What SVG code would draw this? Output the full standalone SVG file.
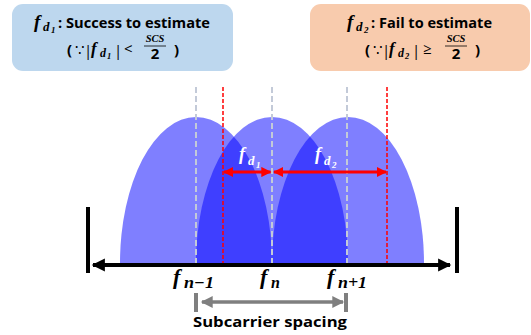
<svg xmlns="http://www.w3.org/2000/svg" width="531" height="335" viewBox="0 0 531 335">
<defs>
<style>
.box{stroke:none}
.t{font-family:"Open Sans","Noto Sans",sans-serif;font-weight:bold;font-size:15px;fill:#000}
.p{font-family:"Open Sans","Noto Sans",sans-serif;font-size:15px;fill:#000}
.m{font-family:"Liberation Serif","DejaVu Serif",serif;font-style:italic;font-weight:bold}
.lobe{fill:#0000FF;fill-opacity:0.5}
.gd{stroke:#C3CAD8;stroke-width:2;stroke-dasharray:6,3;fill:none}
.rd{stroke:#FF0000;stroke-width:1.5;stroke-dasharray:4,2;fill:none}
</style>
<marker id="ra" viewBox="0 0 10 10" refX="9" refY="5" markerWidth="3.6" markerHeight="3.4" orient="auto-start-reverse" markerUnits="strokeWidth"><path d="M0,0 L10,5 L0,10 Z" fill="#FF0000"/></marker>
<marker id="ba" viewBox="0 0 10 10" refX="9" refY="5" markerWidth="4.2" markerHeight="3.3" orient="auto-start-reverse" markerUnits="strokeWidth"><path d="M0,0 L10,5 L0,10 Z" fill="#000"/></marker>
<marker id="ga" viewBox="0 0 10 10" refX="9" refY="5" markerWidth="4.2" markerHeight="3.4" orient="auto-start-reverse" markerUnits="strokeWidth"><path d="M0,0 L10,5 L0,10 Z" fill="#7F7F7F"/></marker>
</defs>

<g id="box-success">
<rect class="box" x="12" y="4" width="221" height="67" rx="11" fill="#BDD7EE"/>
<text x="34" y="28" class="m" font-size="19">f</text>
<text x="43" y="31" class="m" font-size="13">d</text>
<text x="51" y="33" class="m" font-size="9">1</text>
<text x="58" y="28" class="t" font-size="15.5" textLength="152" lengthAdjust="spacingAndGlyphs">: Success to estimate</text>
<text x="67" y="55" class="p" font-weight="bold">(</text>
<text x="75" y="55" class="p" font-family="DejaVu Sans" font-size="11">∵</text>
<text x="84" y="56" class="p" font-size="19">|</text>
<text x="91" y="54" class="m" font-size="17">f</text>
<text x="100" y="57" class="m" font-size="12">d</text>
<text x="107" y="59" class="m" font-size="8.5">1</text>
<text x="114" y="56" class="p" font-size="19">|</text>
<text x="124" y="54" class="p" font-family="DejaVu Sans" font-size="13">&lt;</text>
<text x="155" y="42" class="m" font-size="10.5" text-anchor="middle" font-weight="normal">SCS</text>
<line x1="144" y1="46" x2="166" y2="46" stroke="#000" stroke-width="0.8"/>
<text x="155" y="59" class="p" font-size="11" text-anchor="middle" font-weight="bold">2</text>
<text x="174" y="55" class="p" font-weight="bold">)</text>
</g>

<g id="box-fail">
<rect class="box" x="310" y="4" width="220" height="67" rx="11" fill="#F8CBAD"/>
<text x="347" y="28" class="m" font-size="19">f</text>
<text x="356" y="31" class="m" font-size="13">d</text>
<text x="364" y="33" class="m" font-size="9">2</text>
<text x="371" y="28" class="t" font-size="15.5" textLength="121" lengthAdjust="spacingAndGlyphs">: Fail to estimate</text>
<text x="365" y="55" class="p" font-weight="bold">(</text>
<text x="373" y="55" class="p" font-family="DejaVu Sans" font-size="11">∵</text>
<text x="382" y="56" class="p" font-size="19">|</text>
<text x="389" y="54" class="m" font-size="17">f</text>
<text x="398" y="57" class="m" font-size="12">d</text>
<text x="405" y="59" class="m" font-size="8.5">2</text>
<text x="412" y="56" class="p" font-size="19">|</text>
<text x="423" y="54" class="p" font-family="DejaVu Sans" font-size="13">≥</text>
<text x="456" y="42" class="m" font-size="10.5" text-anchor="middle" font-weight="normal">SCS</text>
<line x1="445" y1="46" x2="467" y2="46" stroke="#000" stroke-width="0.8"/>
<text x="456" y="59" class="p" font-size="11" text-anchor="middle" font-weight="bold">2</text>
<text x="475" y="55" class="p" font-weight="bold">)</text>
</g>

<g id="lobes">
<path class="lobe" d="M120,263 A76,146 0 0 1 272,263 Z"/>
<path class="lobe" d="M196,263 A76,146 0 0 1 348,263 Z"/>
<path class="lobe" d="M272,263 A76,146 0 0 1 424,263 Z"/>
</g>

<g id="guides">
<line class="gd" x1="196" y1="87" x2="196" y2="263"/>
<line class="gd" x1="272" y1="87" x2="272" y2="263"/>
<line class="gd" x1="347" y1="87" x2="347" y2="263"/>
<line class="rd" x1="223" y1="87" x2="223" y2="263"/>
<line class="rd" x1="387" y1="87" x2="387" y2="263"/>
</g>

<g id="connectors">
<line x1="224" y1="172" x2="270.5" y2="172" stroke="#FF0000" stroke-width="3" marker-start="url(#ra)" marker-end="url(#ra)"/>
<line x1="274" y1="172" x2="386" y2="172" stroke="#FF0000" stroke-width="3" marker-start="url(#ra)" marker-end="url(#ra)"/>
<line x1="93" y1="265" x2="450" y2="265" stroke="#000" stroke-width="4" marker-start="url(#ba)" marker-end="url(#ba)"/>
<line x1="88" y1="207" x2="88" y2="273" stroke="#000" stroke-width="4"/>
<line x1="457" y1="207" x2="457" y2="273" stroke="#000" stroke-width="4"/>
<line x1="202" y1="302" x2="343" y2="302" stroke="#7F7F7F" stroke-width="3.5" marker-start="url(#ga)" marker-end="url(#ga)"/>
<line x1="196" y1="293" x2="196" y2="312" stroke="#7F7F7F" stroke-width="4"/>
<line x1="346" y1="293" x2="346" y2="312" stroke="#7F7F7F" stroke-width="4"/>
</g>

<g id="label-fd1">
<text x="239" y="160" class="m" font-size="18" fill="#FFFFFF">f</text>
<text x="248" y="165" class="m" font-size="13" fill="#FFFFFF">d</text>
<text x="256" y="168" class="m" font-size="9" fill="#FFFFFF">1</text>
</g>
<g id="label-fd2">
<text x="315" y="160" class="m" font-size="18" fill="#FFFFFF">f</text>
<text x="324" y="165" class="m" font-size="13" fill="#FFFFFF">d</text>
<text x="332" y="168" class="m" font-size="9" fill="#FFFFFF">2</text>
</g>

<g id="label-fn-1">
<text x="173" y="284" class="m" font-size="22">f</text>
<text x="184" y="288" class="m" font-size="16" textLength="30" lengthAdjust="spacingAndGlyphs">n−1</text>
</g>
<g id="label-fn">
<text x="260" y="284" class="m" font-size="22">f</text>
<text x="271" y="288" class="m" font-size="16">n</text>
</g>
<g id="label-fn+1">
<text x="327" y="284" class="m" font-size="22">f</text>
<text x="338" y="288" class="m" font-size="16" textLength="29" lengthAdjust="spacingAndGlyphs">n+1</text>
</g>

<g id="label-scs">
<text x="193" y="327" class="t" font-size="19" textLength="154" lengthAdjust="spacingAndGlyphs">Subcarrier spacing</text>
</g>
</svg>
